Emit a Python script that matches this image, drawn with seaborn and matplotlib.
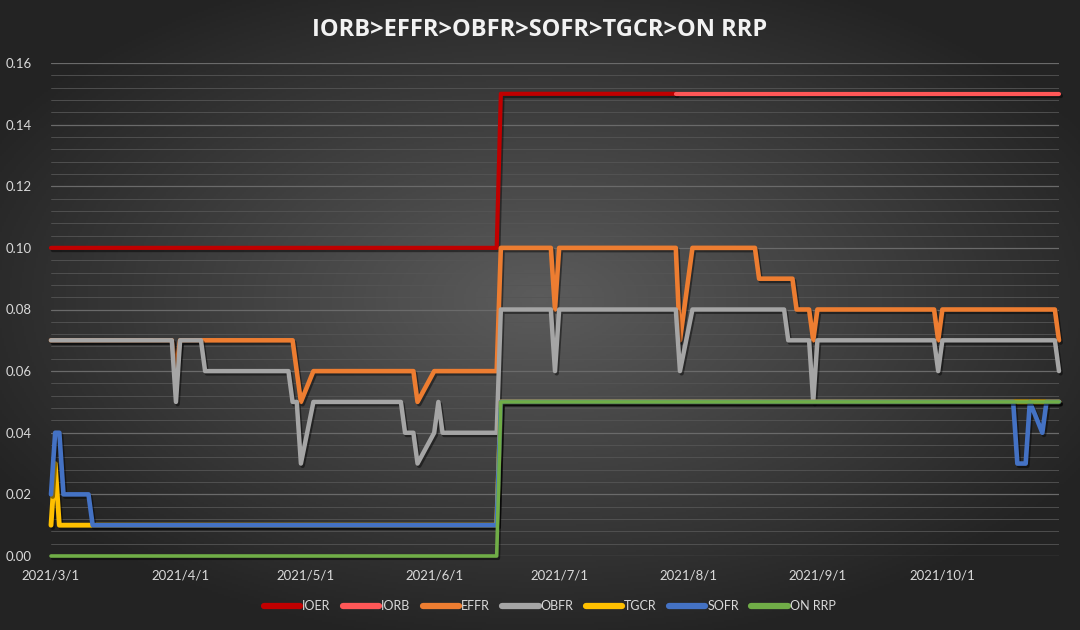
import numpy as np
import pandas as pd
import matplotlib
matplotlib.use("Agg")
import matplotlib.pyplot as plt
import matplotlib.patheffects as pe
import matplotlib.ticker as mticker
from matplotlib.lines import Line2D
import seaborn as sns

# rate series: each value holds from its date until the next change
ioer_dates = ["2021-03-01", "2021-06-17"]
ioer_vals = [0.10, 0.15]
ioer_end = "2021-07-29"

iorb_dates = ["2021-07-29"]
iorb_vals = [0.15]

effr_dates = ["2021-03-01", "2021-03-31", "2021-04-01", "2021-04-29", "2021-04-30", "2021-05-03",
              "2021-05-28", "2021-06-01", "2021-06-17", "2021-06-30", "2021-07-01", "2021-07-30",
              "2021-08-02", "2021-08-18", "2021-08-27", "2021-08-31", "2021-09-01", "2021-09-30",
              "2021-10-01", "2021-10-29"]
effr_vals = [0.07, 0.06, 0.07, 0.06, 0.05, 0.06,
             0.05, 0.06, 0.10, 0.08, 0.10, 0.07,
             0.10, 0.09, 0.08, 0.07, 0.08, 0.07,
             0.08, 0.07]

obfr_dates = ["2021-03-01", "2021-03-31", "2021-04-01", "2021-04-07", "2021-04-28", "2021-04-30",
              "2021-05-03", "2021-05-25", "2021-05-28", "2021-06-01", "2021-06-02", "2021-06-03",
              "2021-06-17", "2021-06-30", "2021-07-01", "2021-07-30", "2021-08-02", "2021-08-25",
              "2021-08-31", "2021-09-01", "2021-09-30", "2021-10-01", "2021-10-29"]
obfr_vals = [0.07, 0.05, 0.07, 0.06, 0.05, 0.03,
             0.05, 0.04, 0.03, 0.04, 0.05, 0.04,
             0.08, 0.06, 0.08, 0.06, 0.08, 0.07,
             0.05, 0.07, 0.06, 0.07, 0.06]

tgcr_dates = ["2021-03-01", "2021-03-02", "2021-03-03", "2021-06-17"]
tgcr_vals = [0.01, 0.03, 0.01, 0.05]

sofr_dates = ["2021-03-01", "2021-03-02", "2021-03-04", "2021-03-11", "2021-06-17",
              "2021-10-19", "2021-10-22", "2021-10-25", "2021-10-26"]
sofr_vals = [0.02, 0.04, 0.02, 0.01, 0.05,
             0.03, 0.05, 0.04, 0.05]

onrrp_dates = ["2021-03-01", "2021-06-17"]
onrrp_vals = [0.00, 0.05]

start, end = "2021-03-01", "2021-10-29"
holidays = ["2021-05-31", "2021-07-05", "2021-09-06", "2021-10-11"]
days = pd.bdate_range(start, end).difference(pd.to_datetime(holidays))


def expand(dates, vals, first=start, last=end):
    s = pd.Series(vals, index=pd.to_datetime(dates))
    idx = days[(days >= pd.Timestamp(first)) & (days <= pd.Timestamp(last))]
    return s.reindex(idx.union(s.index)).ffill().loc[idx]


series = [
    ("IOER", expand(ioer_dates, ioer_vals, last=ioer_end), "#C00000", 3.0),
    ("IORB", expand(iorb_dates, iorb_vals, first=iorb_dates[0]), "#FF5757", 3.0),
    ("EFFR", expand(effr_dates, effr_vals), "#ED7D31", 3.3),
    ("OBFR", expand(obfr_dates, obfr_vals), "#A5A5A5", 3.2),
    ("TGCR", expand(tgcr_dates, tgcr_vals), "#FFC000", 3.5),
    ("SOFR", expand(sofr_dates, sofr_vals), "#4472C4", 3.3),
    ("ON RRP", expand(onrrp_dates, onrrp_vals), "#70AD47", 2.6),
]

sns.set_style("dark")
plt.rcParams["font.family"] = ["Lato", "DejaVu Sans"]

fig = plt.figure(figsize=(10.8, 6.3), dpi=100)

# radial dark-gray background
bg = fig.add_axes([0, 0, 1, 1], zorder=-2)
gx, gy = np.meshgrid(np.linspace(-1, 1, 540), np.linspace(-1, 1, 315))
r = np.sqrt((gx / 1.05) ** 2 + ((gy + 0.05) / 1.0) ** 2)
shade = np.clip(0.36 - 0.2 * r, 0.14, 0.36)
bg.imshow(np.dstack([shade] * 3), aspect="auto", extent=[0, 1, 0, 1])
bg.axis("off")

ax = fig.add_axes([51 / 1080, 1 - 556 / 630, (1059 - 51) / 1080, (556 - 63) / 630])
ax.set_facecolor("none")

shadow = [pe.SimpleLineShadow(offset=(1.2, -1.6), shadow_color="black", alpha=0.45), pe.Normal()]
handles = []
for name, s, color, lw in series:
    sns.lineplot(x=s.index, y=s.values, ax=ax, color=color, linewidth=lw)
    line = ax.lines[-1]
    line.set_path_effects(shadow)
    line.set_clip_on(False)
    line.set_solid_joinstyle("round")
    line.set_solid_capstyle("round")
    handles.append(Line2D([], [], color=color, lw=4.5, solid_capstyle="round"))

ax.set_xlim(pd.Timestamp(start), pd.Timestamp(end))
ax.set_ylim(0, 0.16)
ax.set_xlabel("")
ax.set_ylabel("")

ax.yaxis.set_major_locator(mticker.MultipleLocator(0.02))
ax.yaxis.set_minor_locator(mticker.MultipleLocator(0.004))
ax.yaxis.set_major_formatter(mticker.FormatStrFormatter("%.2f"))
ax.grid(which="major", axis="y", color="#6a6a6a", lw=0.9)
ax.grid(which="minor", axis="y", color="#555555", lw=0.6)
ax.grid(which="major", axis="x", visible=False)
ax.set_axisbelow(True)

month_ticks = pd.date_range("2021-03-01", "2021-10-01", freq="MS")
ax.set_xticks(month_ticks)
ax.set_xticklabels([f"{d.year}/{d.month}/{d.day}" for d in month_ticks])
ax.tick_params(axis="x", colors="#d9d9d9", labelsize=9.5, length=3, width=0.8, pad=7)
ax.tick_params(axis="x", which="major", color="#6a6a6a")
ax.tick_params(axis="y", colors="#d9d9d9", labelsize=9.5, length=0, pad=14, which="major")
ax.tick_params(axis="y", which="minor", length=0)
for sp in ax.spines.values():
    sp.set_visible(False)

fig.text(0.5, 0.952, "IORB>EFFR>OBFR>SOFR>TGCR>ON RRP", ha="center", va="center",
         fontsize=17, fontweight="bold", color="#f2f2f2", family=["Open Sans", "DejaVu Sans"])

leg = fig.legend(handles, [n for n, *_ in series], loc="center", bbox_to_anchor=(0.509, 1 - 606 / 630),
                 ncol=7, frameon=False, fontsize=9, handlelength=2.9, handletextpad=0.15,
                 columnspacing=1.0)
for t in leg.get_texts():
    t.set_color("#d9d9d9")

fig.savefig("out.png", dpi=100)
